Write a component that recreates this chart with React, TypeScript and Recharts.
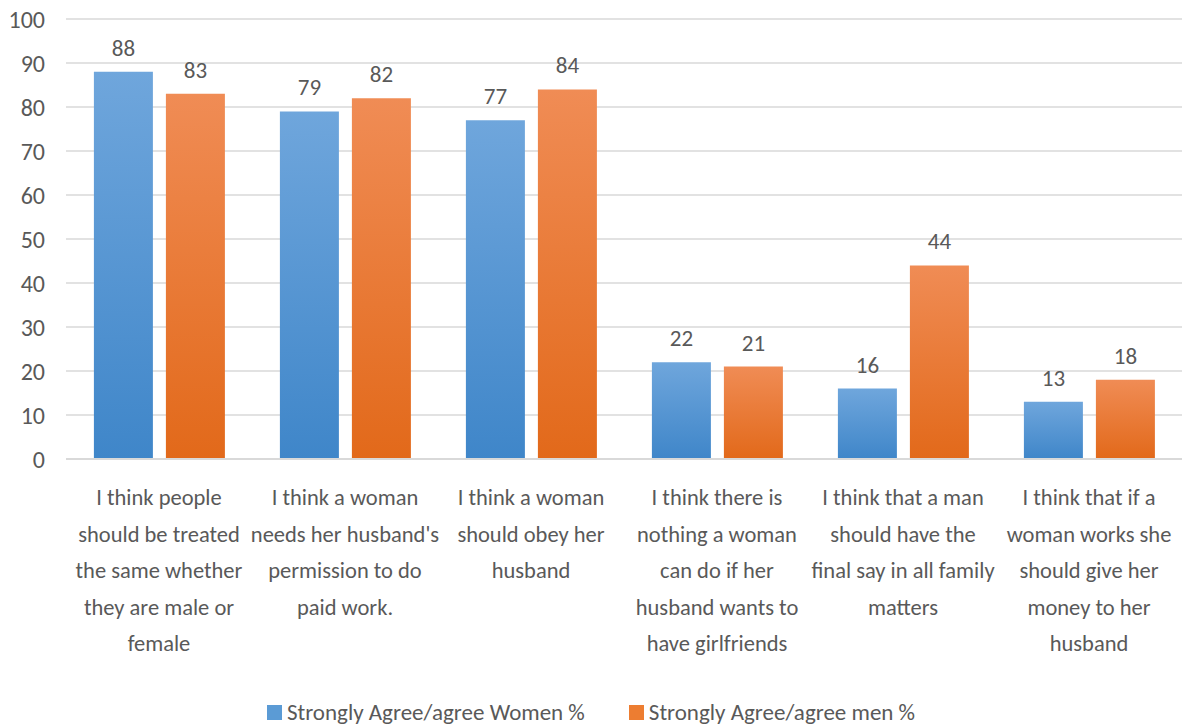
import { Bar, BarChart, CartesianGrid, LabelList, Legend, XAxis, YAxis } from "recharts"

const categories = [
    "I think people should be treated the same whether they are male or female",
    "I think a woman needs her husband's permission to do paid work.",
    "I think a woman should obey her husband",
    "I think there is nothing a woman can do if her husband wants to have girlfriends",
    "I think that a man should have the final say in all family matters",
    "I think that if a woman works she should give her money to her husband",
]

// line breaks as they appear under each group
const tickLines = [
    ["I think people", "should be treated", "the same whether", "they are male or", "female"],
    ["I think a woman", "needs her husband's", "permission to do", "paid work."],
    ["I think a woman", "should obey her", "husband"],
    ["I think there is", "nothing a woman", "can do if her", "husband wants to", "have girlfriends"],
    ["I think that a man", "should have the", "final say in all family", "matters"],
    ["I think that if a", "woman works she", "should give her", "money to her", "husband"],
]

const women = [88, 79, 77, 22, 16, 13]
const men = [83, 82, 84, 21, 44, 18]

const yTicks = [0, 10, 20, 30, 40, 50, 60, 70, 80, 90, 100]

const data = categories.map((name, i) => ({ name, women: women[i], men: men[i], idx: i }))

const FONT = "Carlito, 'Liberation Sans Narrow', 'DejaVu Sans Condensed', 'Open Sans', sans-serif"
const TEXT = "#595959"

function CategoryTick({ x, y, index }: any) {
    const lines = tickLines[index] || []
    return (
        <text x={x} y={y} textAnchor="middle" fill={TEXT} fontSize={22.5} fontFamily={FONT}>
            {lines.map((l, i) => (
                <tspan key={i} x={x} y={y + 38 + i * 36.5}>
                    {l}
                </tspan>
            ))}
        </text>
    )
}

function LegendBox() {
    const items = [
        { label: "Strongly Agree/agree Women %", color: "#5B9BD5" },
        { label: "Strongly Agree/agree men %", color: "#ED7D31" },
    ]
    return (
        <div
            style={{
                display: "flex",
                justifyContent: "center",
                gap: 44,
                height: 40,
                paddingTop: 14,
                boxSizing: "border-box",
                fontFamily: FONT,
                fontSize: 23,
                color: TEXT,
                lineHeight: "24px",
            }}
        >
            {items.map((it) => (
                <div key={it.label} style={{ display: "flex", alignItems: "center", gap: 5 }}>
                    <span style={{ width: 15, height: 15, background: it.color, display: "inline-block" }} />
                    <span>{it.label}</span>
                </div>
            ))}
        </div>
    )
}

export default function App() {
    return (
        <div style={{ position: "absolute", left: 0, top: 0, background: "#fff" }}>
            <BarChart
                width={1182}
                height={725}
                data={data}
                margin={{ top: 19, right: 0, bottom: 0, left: 0 }}
                barCategoryGap="15%"
                barGap={13}
            >
                <defs>
                    <linearGradient id="gWomen" x1="0" y1="0" x2="0" y2="1">
                        <stop offset="0%" stopColor="#6FA6DC" />
                        <stop offset="100%" stopColor="#3F86C9" />
                    </linearGradient>
                    <linearGradient id="gMen" x1="0" y1="0" x2="0" y2="1">
                        <stop offset="0%" stopColor="#F08C55" />
                        <stop offset="100%" stopColor="#E2691A" />
                    </linearGradient>
                </defs>
                <CartesianGrid vertical={false} stroke="#D9D9D9" strokeWidth={1.5} />
                <XAxis
                    dataKey="name"
                    tick={<CategoryTick />}
                    interval={0}
                    height={226}
                    tickLine={false}
                    axisLine={{ stroke: "#D9D9D9", strokeWidth: 2 }}
                />
                <YAxis
                    domain={[0, 100]}
                    ticks={yTicks}
                    width={66}
                    tickLine={false}
                    axisLine={false}
                    tickMargin={15}
                    tick={{ fill: TEXT, fontSize: 24, fontFamily: FONT }}
                />
                <Legend verticalAlign="bottom" content={<LegendBox />} />
                <Bar dataKey="women" fill="url(#gWomen)" isAnimationActive={false}>
                    <LabelList dataKey="women" position="top" offset={16} fill={TEXT} fontSize={23} fontFamily={FONT} />
                </Bar>
                <Bar dataKey="men" fill="url(#gMen)" isAnimationActive={false}>
                    <LabelList dataKey="men" position="top" offset={16} fill={TEXT} fontSize={23} fontFamily={FONT} />
                </Bar>
            </BarChart>
        </div>
    )
}
